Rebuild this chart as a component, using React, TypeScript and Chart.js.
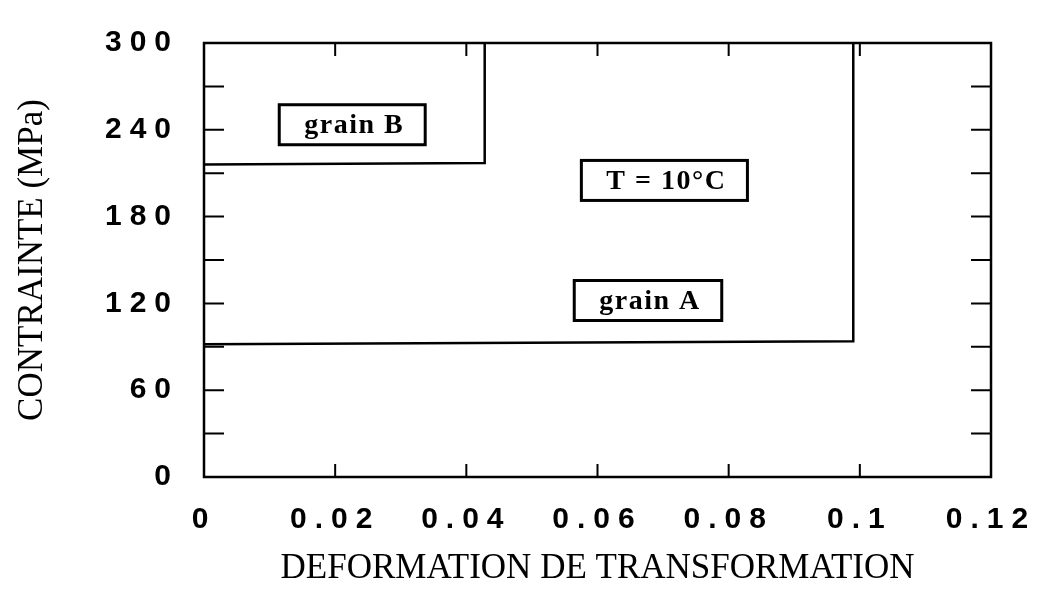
import React, { useEffect, useRef } from 'react';
import { Chart, registerables } from 'chart.js';

Chart.register(...registerables);

// ---- data ----
const grainAStrain = [0, 0.099, 0.099];
const grainAStress = [91.8, 93.8, 300];
const grainBStrain = [0, 0.0428, 0.0428];
const grainBStress = [216, 217, 300];

const xTickValues = [0, 0.02, 0.04, 0.06, 0.08, 0.1, 0.12];
const xTickLabels = ['0', '0.02', '0.04', '0.06', '0.08', '0.1', '0.12'];
const yTickValues = [0, 30, 60, 90, 120, 150, 180, 210, 240, 270, 300];
const yTickLabels = ['0', '', '60', '', '120', '', '180', '', '240', '', '300'];

const annotationTexts = ['grain B', 'T = 10°C', 'grain A'];
const annotationStrain = [0.0226, 0.0702, 0.0677];
const annotationStress = [243.5, 205, 122];

const xTitle = 'DEFORMATION DE TRANSFORMATION';
const yTitle = 'CONTRAINTE (MPa)';

const framePlugin = {
  id: 'frameTicks',
  beforeDatasetsDraw(chart: any) {
    const { ctx, chartArea: a, scales } = chart;
    const xs = scales.x;
    const ys = scales.y;
    ctx.save();
    ctx.strokeStyle = '#000';
    ctx.lineWidth = 2.5;
    ctx.strokeRect(a.left, a.top, a.right - a.left, a.bottom - a.top);
    ctx.lineWidth = 2;
    ctx.beginPath();
    ys.ticks.forEach((t: any) => {
      if (t.value <= ys.min || t.value >= ys.max) return;
      const py = ys.getPixelForValue(t.value);
      ctx.moveTo(a.left, py);
      ctx.lineTo(a.left + 20, py);
      ctx.moveTo(a.right, py);
      ctx.lineTo(a.right - 20, py);
    });
    xs.ticks.forEach((t: any) => {
      if (t.value <= xs.min || t.value >= xs.max) return;
      const px = xs.getPixelForValue(t.value);
      ctx.moveTo(px, a.bottom);
      ctx.lineTo(px, a.bottom - 13);
      ctx.moveTo(px, a.top);
      ctx.lineTo(px, a.top + 13);
    });
    ctx.stroke();
    ctx.restore();
  },
  afterDatasetsDraw(chart: any) {
    const { ctx, scales } = chart;
    ctx.save();
    ctx.font = 'bold 28px "Liberation Serif", "Times New Roman", serif';
    (ctx as any).letterSpacing = '1.5px';
    ctx.fillStyle = '#000';
    ctx.strokeStyle = '#000';
    ctx.lineWidth = 3;
    ctx.textAlign = 'center';
    ctx.textBaseline = 'middle';
    annotationTexts.forEach((txt, i) => {
      const px = scales.x.getPixelForValue(annotationStrain[i]);
      const py = scales.y.getPixelForValue(annotationStress[i]);
      const w = ctx.measureText(txt).width + 46;
      const h = 40;
      ctx.strokeRect(px - w / 2, py - h / 2, w, h);
      ctx.fillText(txt, px + 2, py + 1);
    });
    ctx.restore();
    (ctx as any).letterSpacing = '8px';
  },
  afterDraw(chart: any) {
    (chart.ctx as any).letterSpacing = '0px';
  },
};

export default function App() {
  const ref = useRef<HTMLCanvasElement | null>(null);

  useEffect(() => {
    if (!ref.current) return;
    const tickFont = { family: '"Liberation Sans", Arial, sans-serif', size: 30, weight: 'bold' as const };
    const titleFont = { family: '"Liberation Serif", "Times New Roman", serif', size: 35, weight: 'normal' as const };
    const chart = new Chart(ref.current, {
      type: 'scatter',
      data: {
        datasets: [
          {
            label: 'grain A',
            data: grainAStrain.map((x, i) => ({ x, y: grainAStress[i] })),
            showLine: true,
            borderColor: '#000',
            borderWidth: 2.5,
            pointRadius: 0,
            tension: 0,
          },
          {
            label: 'grain B',
            data: grainBStrain.map((x, i) => ({ x, y: grainBStress[i] })),
            showLine: true,
            borderColor: '#000',
            borderWidth: 2.5,
            pointRadius: 0,
            tension: 0,
          },
        ],
      },
      options: {
        animation: false,
        responsive: false,
        layout: { padding: { left: 0, right: 61, top: 21, bottom: 0 } },
        plugins: { legend: { display: false }, tooltip: { enabled: false } },
        scales: {
          x: {
            type: 'linear',
            position: 'bottom',
            min: 0,
            max: 0.12,
            afterBuildTicks: (s: any) => {
              s.ticks = xTickValues.map((v) => ({ value: v }));
            },
            afterFit: (s: any) => {
              s.height = 116;
            },
            grid: { display: false, drawTicks: false, z: -1 },
            border: { display: false },
            ticks: {
              z: 1,
              autoSkip: false,
              maxRotation: 0,
              minRotation: 0,
              padding: 25,
              color: '#000',
              font: tickFont,
              callback: (_v: any, i: number) => xTickLabels[i],
            },
            title: {
              display: true,
              text: xTitle,
              color: '#000',
              font: titleFont,
              padding: { top: 0, bottom: 3 },
            },
          },
          y: {
            type: 'linear',
            position: 'left',
            min: 0,
            max: 300,
            afterBuildTicks: (s: any) => {
              s.ticks = yTickValues.map((v) => ({ value: v }));
            },
            afterFit: (s: any) => {
              s.width = 204;
            },
            grid: { display: false, drawTicks: false, z: -1 },
            border: { display: false },
            ticks: {
              z: 1,
              autoSkip: false,
              padding: 25,
              color: '#000',
              font: tickFont,
              callback: (_v: any, i: number) => yTickLabels[i],
            },
            title: {
              display: true,
              text: yTitle,
              color: '#000',
              font: titleFont,
              padding: { top: 12, bottom: 0 },
            },
          },
        },
      },
      plugins: [framePlugin],
    });
    return () => chart.destroy();
  }, []);

  return (
    <div style={{ position: 'fixed', left: 0, top: 0, width: 1052, height: 593, background: '#fff' }}>
      <canvas ref={ref} width={1052} height={593} style={{ display: 'block', width: 1052, height: 593 }} />
    </div>
  );
}
